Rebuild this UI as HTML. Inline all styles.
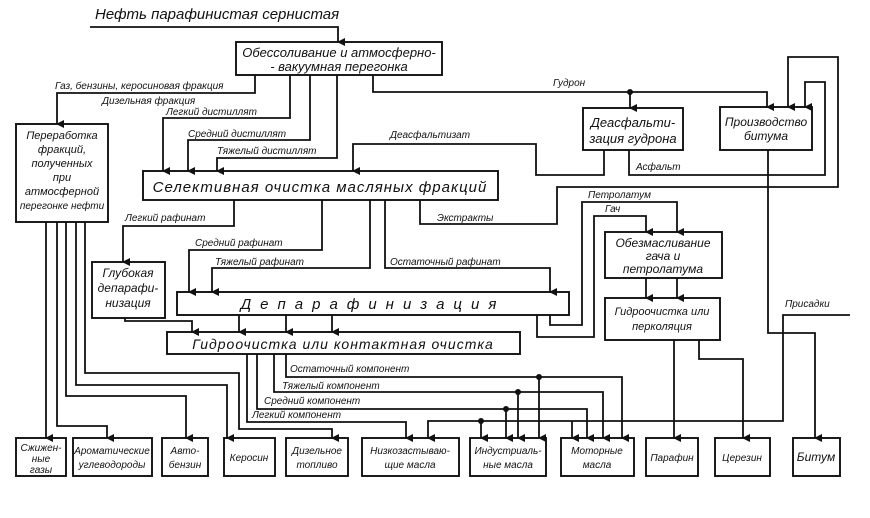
<!DOCTYPE html>
<html><head><meta charset="utf-8"><style>
body{margin:0;background:#fff}
svg{display:block}
text{font-family:"Liberation Sans","DejaVu Sans",sans-serif;font-style:italic;fill:#111}
</style></head><body>
<svg width="870" height="518" viewBox="0 0 870 518" xmlns="http://www.w3.org/2000/svg">
<defs><marker id="a" markerWidth="8" markerHeight="8" refX="4" refY="7" orient="auto" markerUnits="userSpaceOnUse"><path d="M0,0 L8,0 L4,8 z" fill="#111"/></marker></defs>
<g fill="none" stroke="#111" stroke-width="1.9">
<rect x="236" y="42" width="206" height="33"/>
<rect x="16" y="124" width="92" height="98"/>
<rect x="143" y="171" width="355" height="29"/>
<rect x="583" y="108" width="100" height="42"/>
<rect x="720" y="107" width="92" height="43"/>
<rect x="605" y="232" width="117" height="46"/>
<rect x="605" y="298" width="115" height="42"/>
<rect x="92" y="262" width="73" height="56"/>
<rect x="177" y="292" width="392" height="23"/>
<rect x="167" y="332" width="353" height="22"/>
<rect x="16" y="438" width="50" height="38"/>
<rect x="73" y="438" width="79" height="38"/>
<rect x="162" y="438" width="46" height="38"/>
<rect x="224" y="438" width="51" height="38"/>
<rect x="286" y="438" width="62" height="38"/>
<rect x="362" y="438" width="97" height="38"/>
<rect x="470" y="438" width="76" height="38"/>
<rect x="561" y="438" width="73" height="38"/>
<rect x="646" y="438" width="52" height="38"/>
<rect x="715" y="438" width="55" height="38"/>
<rect x="793" y="438" width="47" height="38"/>
</g>
<g fill="none" stroke="#111" stroke-width="1.8" marker-end="url(#a)">
<path d="M90,27 H338 V42"/>
<path d="M255,75 V93 H57 V124"/>
<path d="M290,75 V118 H163 V171"/>
<path d="M310,75 V140 H188 V171"/>
<path d="M337,75 V158 H217 V171"/>
<path d="M373,75 V92 H767 V107"/>
<path d="M630,92 V108"/>
<path d="M604,150 V175 H536 V144 H353 V171"/>
<path d="M629,150 V175 H825 V82 H805 V107"/>
<path d="M420,200 V224 H557 V187 H838 V57 H788 V107"/>
<path d="M234,200 V226 H123 V262"/>
<path d="M322,200 V250 H189 V292"/>
<path d="M370,200 V268 H212 V292"/>
<path d="M385,200 V268 H550 V292"/>
<path d="M550,315 V325 H582 V202 H677 V232"/>
<path d="M537,315 V337 H594 V216 H646 V232"/>
<path d="M646,278 V298"/>
<path d="M677,278 V298"/>
<path d="M674,340 V438"/>
<path d="M699,340 V359 H743 V438"/>
<path d="M768,150 V333 H815 V438"/>
<path d="M850,315 H783 V421 H428 V438"/>
<path d="M481,421 V438"/>
<path d="M572,421 V438"/>
<path d="M125,318 V321 H192 V332"/>
<path d="M239,315 V332"/>
<path d="M286,315 V332"/>
<path d="M332,315 V332"/>
<path d="M247,354 V422 H406 V438"/>
<path d="M257,354 V409 H587 V438"/>
<path d="M506,409 V438"/>
<path d="M274,354 V392 H603 V438"/>
<path d="M518,392 V438"/>
<path d="M286,354 V377 H622 V438"/>
<path d="M539,377 V438"/>
<path d="M46,222 V438"/>
<path d="M57,222 V426 H107 V438"/>
<path d="M66,222 V396 H186 V438"/>
<path d="M76,222 V385 H227 V438"/>
<path d="M85,222 V373 H239 V429 H332 V438"/>
</g>
<g fill="#111"><circle cx="630" cy="92" r="3"/><circle cx="481" cy="421" r="3"/><circle cx="506" cy="409" r="3"/><circle cx="518" cy="392" r="3"/><circle cx="539" cy="377" r="3"/></g>
<g font-size="13">
<text x="95" y="19" font-size="15">Нефть  парафинистая  сернистая</text>
<text x="339" y="57" text-anchor="middle">Обессоливание и атмосферно-</text>
<text x="339" y="71" text-anchor="middle">- вакуумная  перегонка</text>
<text x="320" y="192" text-anchor="middle" font-size="15" letter-spacing="1">Селективная  очистка  масляных  фракций</text>
<text x="373" y="309" text-anchor="middle" font-size="15" letter-spacing="9">Депарафинизация</text>
<text x="343" y="349" text-anchor="middle" font-size="14" letter-spacing="1">Гидроочистка  или  контактная  очистка</text>
<text x="633" y="127" text-anchor="middle">Деасфальти-</text>
<text x="633" y="143" text-anchor="middle">зация гудрона</text>
<text x="766" y="126" text-anchor="middle" font-size="12">Производство</text>
<text x="766" y="140" text-anchor="middle" font-size="12">битума</text>
<text x="663" y="247" text-anchor="middle" font-size="12">Обезмасливание</text>
<text x="663" y="260" text-anchor="middle" font-size="12">гача  и</text>
<text x="663" y="273" text-anchor="middle" font-size="12">петролатума</text>
<text x="662" y="315" text-anchor="middle" font-size="11">Гидроочистка или</text>
<text x="662" y="330" text-anchor="middle" font-size="11">перколяция</text>
<text x="128" y="277" text-anchor="middle" font-size="12">Глубокая</text>
<text x="128" y="292" text-anchor="middle" font-size="12">депарафи-</text>
<text x="128" y="307" text-anchor="middle" font-size="12">низация</text>
<g font-size="11" text-anchor="middle">
<text x="62" y="139">Переработка</text>
<text x="62" y="153">фракций,</text>
<text x="62" y="167">полученных</text>
<text x="62" y="181">при</text>
<text x="62" y="195">атмосферной</text>
<text x="62" y="209" font-size="10">перегонке нефти</text>
</g>
<g font-size="10">
<text x="55" y="89">Газ, бензины, керосиновая фракция</text>
<text x="102" y="104">Дизельная фракция</text>
<text x="166" y="115">Легкий дистиллят</text>
<text x="188" y="137">Средний дистиллят</text>
<text x="217" y="154">Тяжелый дистиллят</text>
<text x="553" y="86">Гудрон</text>
<text x="390" y="138">Деасфальтизат</text>
<text x="636" y="170">Асфальт</text>
<text x="437" y="221">Экстракты</text>
<text x="125" y="221">Легкий рафинат</text>
<text x="195" y="246">Средний рафинат</text>
<text x="215" y="265">Тяжелый рафинат</text>
<text x="390" y="265">Остаточный рафинат</text>
<text x="588" y="198">Петролатум</text>
<text x="605" y="212">Гач</text>
<text x="785" y="307">Присадки</text>
<text x="290" y="372">Остаточный компонент</text>
<text x="282" y="389">Тяжелый компонент</text>
<text x="264" y="404">Средний компонент</text>
<text x="252" y="418">Легкий компонент</text>
</g>
<g font-size="10" text-anchor="middle">
<text x="41" y="451">Сжижен-</text><text x="41" y="462">ные</text><text x="41" y="473">газы</text>
<text x="112" y="454">Ароматические</text><text x="112" y="468">углеводороды</text>
<text x="185" y="454">Авто-</text><text x="185" y="468">бензин</text>
<text x="249" y="461">Керосин</text>
<text x="317" y="454">Дизельное</text><text x="317" y="468">топливо</text>
<text x="410" y="454">Низкозастываю-</text><text x="410" y="468">щие масла</text>
<text x="508" y="454">Индустриаль-</text><text x="508" y="468">ные масла</text>
<text x="597" y="454">Моторные</text><text x="597" y="468">масла</text>
<text x="672" y="461">Парафин</text>
<text x="742" y="461">Церезин</text>
<text x="816" y="461" font-size="12">Битум</text>
</g>
</g>
</svg>
</body></html>
